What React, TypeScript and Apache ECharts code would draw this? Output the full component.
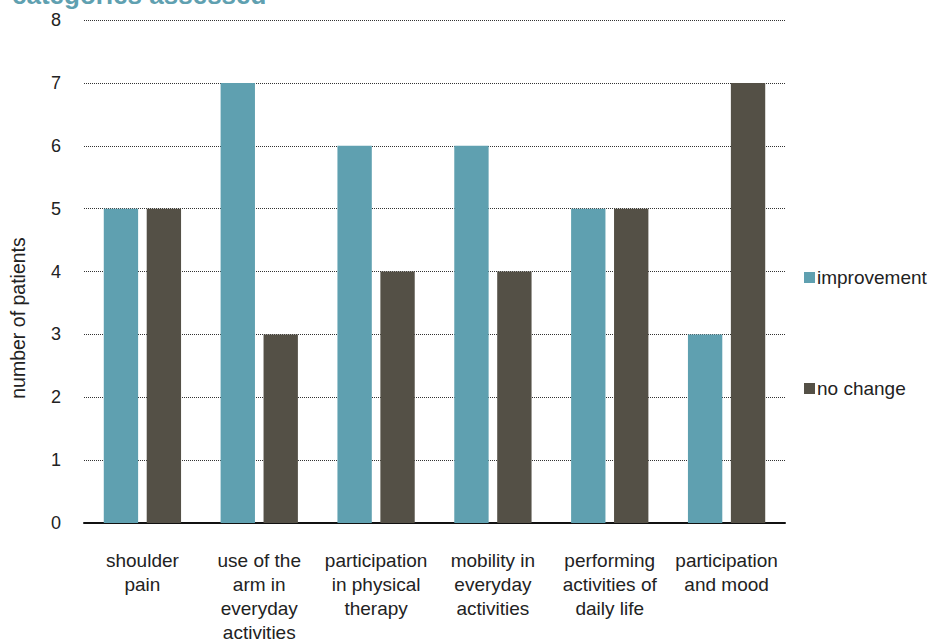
import React, { useEffect, useRef } from "react";
import * as echarts from "echarts";

const categories = [
  "shoulder\npain",
  "use of the\narm in\neveryday\nactivities",
  "participation\nin physical\ntherapy",
  "mobility in\neveryday\nactivities",
  "performing\nactivities of\ndaily life",
  "participation\nand mood",
];
const improvement = [5, 7, 6, 6, 5, 3];
const noChange = [5, 3, 4, 4, 5, 7];
const titleText = "categories assessed";
const yAxisName = "number of patients";

const FONT = "'Liberation Sans', Arial, sans-serif";

export default function App() {
  const ref = useRef<HTMLDivElement>(null);
  useEffect(() => {
    const chart = echarts.init(ref.current!, null, { renderer: "svg" });
    chart.setOption({
      animation: false,
      textStyle: { fontFamily: FONT },
      graphic: [
        {
          type: "text",
          left: 12,
          top: -18,
          style: {
            text: titleText,
            fill: "#5fa0b0",
            font: `bold 26px ${FONT}`,
          },
        },
        {
          type: "text",
          x: 18,
          y: 318,
          rotation: Math.PI / 2,
          style: {
            text: yAxisName,
            fill: "#222",
            font: `19.5px ${FONT}`,
            align: "center",
            verticalAlign: "middle",
          },
        },
      ],
      grid: { left: 84, right: 151, top: 20, bottom: 113 },
      legend: {
        orient: "vertical",
        left: 799,
        top: 263,
        itemGap: 92,
        itemWidth: 11,
        itemHeight: 11,
        icon: "rect",
        textStyle: { fontSize: 19, color: "#222", fontFamily: FONT, padding: [0, 0, 0, -3] },
        data: ["improvement", "no change"],
      },
      xAxis: {
        type: "category",
        data: categories,
        axisLine: { lineStyle: { color: "#111", width: 2 } },
        axisTick: { show: false },
        axisLabel: {
          interval: 0,
          fontSize: 19,
          lineHeight: 24,
          color: "#222",
          margin: 25,
          fontFamily: FONT,
        },
      },
      yAxis: {
        type: "value",
        min: 0,
        max: 8,
        interval: 1,
        axisLine: { show: false },
        axisTick: { show: false },
        axisLabel: { fontSize: 18, color: "#222", margin: 23, fontFamily: FONT },
        splitLine: { lineStyle: { color: "#333", type: [1, 1], width: 1 } },
      },
      series: [
        {
          name: "improvement",
          type: "bar",
          data: improvement,
          barWidth: "29.4%",
          barGap: "25%",
          itemStyle: { color: "#5fa0b0" },
        },
        {
          name: "no change",
          type: "bar",
          data: noChange,
          barWidth: "29.4%",
          itemStyle: { color: "#545046" },
        },
      ],
    });
    return () => chart.dispose();
  }, []);
  return <div ref={ref} style={{ width: 936, height: 644, position: "absolute", left: 0, top: 0 }} />;
}
